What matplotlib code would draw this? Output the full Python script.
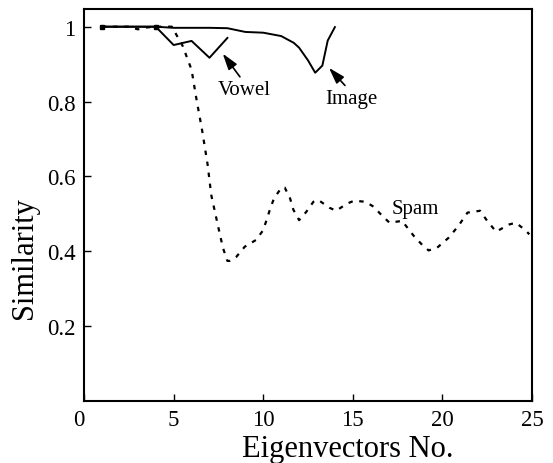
import matplotlib
matplotlib.use('Agg')
import matplotlib.pyplot as plt

plt.rcParams['font.family'] = ['Liberation Serif', 'DejaVu Serif']

# similarity curves
image_x = [1, 2, 3, 4, 5, 6, 7, 8, 9, 10, 11, 11.7, 12, 12.5, 12.9, 13.3, 13.6, 14]
image_y = [1, 1, 1, 1, 0.997, 0.997, 0.997, 0.996, 0.986, 0.984, 0.975, 0.957,
           0.944, 0.91, 0.877, 0.896, 0.963, 0.999]

vowel_x = [1, 2, 3, 4, 5, 6, 7, 8]
vowel_y = [1, 1, 1, 1, 0.951, 0.962, 0.917, 0.970]

spam_x = [1, 2, 2.5, 3, 3.5, 4, 4.9, 5.5, 6.0, 6.26, 6.6, 6.9, 7.1, 7.46, 7.75,
          8.0, 8.13, 8.5, 8.97, 9.6, 9.98, 10.18, 10.37, 10.6, 11.02, 11.2,
          11.5, 11.68, 12.0, 12.4, 12.8, 13.07, 13.7, 14.07, 14.67, 15.08,
          15.7, 16.16, 16.63, 17.05, 17.75, 18.4, 18.87, 19.23, 19.7, 20.35,
          20.9, 21.4, 22.1, 22.5, 23.0, 23.7, 24.1, 24.66, 24.85]
spam_y = [1, 1, 1, 0.993, 0.998, 1.0, 1.0, 0.949, 0.885, 0.81, 0.72, 0.63,
          0.55, 0.471, 0.409, 0.374, 0.374, 0.385, 0.412, 0.43, 0.455, 0.482,
          0.511, 0.541, 0.570, 0.570, 0.541, 0.511, 0.483, 0.505, 0.532,
          0.537, 0.516, 0.508, 0.527, 0.535, 0.532, 0.519, 0.495, 0.476,
          0.481, 0.441, 0.417, 0.402, 0.409, 0.436, 0.468, 0.503, 0.508,
          0.481, 0.452, 0.471, 0.476, 0.455, 0.445]

xticks = [0, 5, 10, 15, 20, 25]
yticks = [0.2, 0.4, 0.6, 0.8, 1.0]
ytick_labels = ['0.2', '0.4', '0.6', '0.8', '1']

fig = plt.figure(figsize=(5.53, 4.64), dpi=100)
ax = fig.add_axes([0.152, 0.134, 0.810, 0.845])

ax.plot(spam_x, spam_y, color='black', lw=1.6, linestyle=(0, (2, 3)),
        marker='s', ms=3.5, markevery=[0, 5])
ax.plot(image_x, image_y, color='black', lw=1.4)
ax.plot(vowel_x, vowel_y, color='black', lw=1.4)

arrow = dict(arrowstyle='-|>,head_length=0.7,head_width=0.22', color='black',
             lw=1.2, mutation_scale=14, shrinkA=0, shrinkB=0)
ax.annotate('', xy=(7.74, 0.928), xytext=(8.7, 0.866), arrowprops=arrow)
ax.annotate('', xy=(13.67, 0.890), xytext=(14.56, 0.843), arrowprops=arrow)
ax.text(8.93, 0.821, 'Vowel', fontsize=15, ha='center', va='baseline')
ax.text(14.9, 0.796, 'Image', fontsize=15, ha='center', va='baseline')
ax.text(18.47, 0.503, 'Spam', fontsize=15, ha='center', va='baseline')

ax.set_xlim(0, 25)
ax.set_ylim(0, 1.048)
ax.set_xticks(xticks)
ax.set_yticks(yticks)
ax.set_yticklabels(ytick_labels)
ax.tick_params(direction='in', length=5, width=1, labelsize=16.5, pad=6)
ax.get_xticklabels()[0].set_ha('right')
for s in ax.spines.values():
    s.set_linewidth(1.5)

ax.set_xlabel('Eigenvectors No.', fontsize=22, labelpad=2)
ax.xaxis.set_label_coords(0.588, -0.085)
ax.set_ylabel('Similarity', fontsize=22)
ax.yaxis.set_label_coords(-0.1, 0.367)

fig.savefig('out.png', dpi=100)
